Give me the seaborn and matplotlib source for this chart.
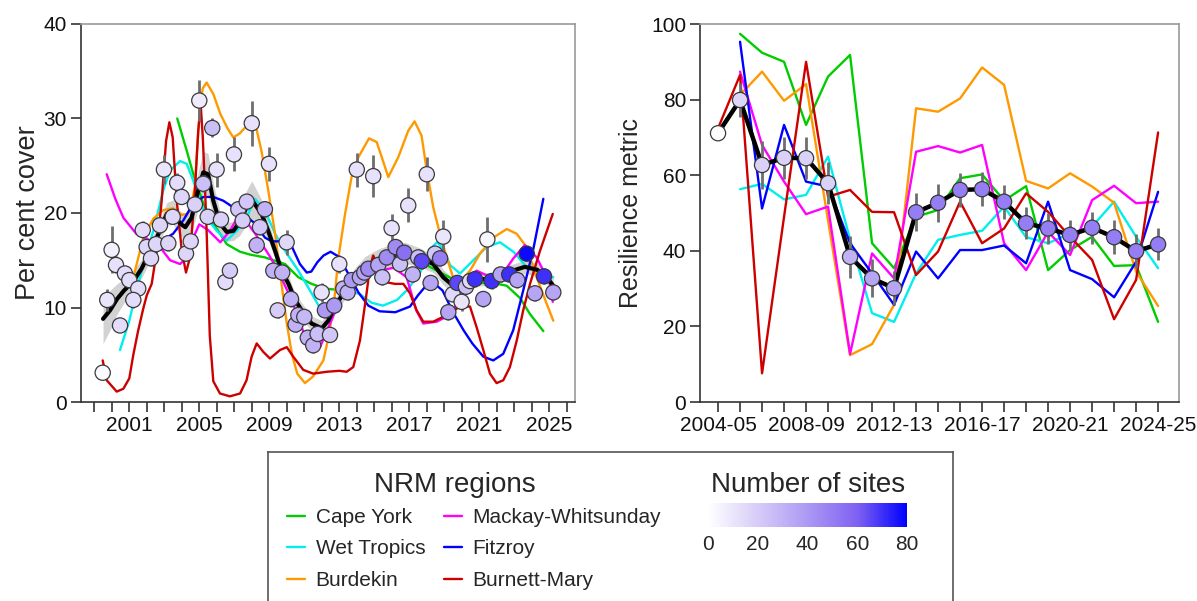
import numpy as np
import pandas as pd
import matplotlib
matplotlib.use("Agg")
import matplotlib.pyplot as plt
from matplotlib.colors import LinearSegmentedColormap, Normalize
from matplotlib.cm import ScalarMappable
from matplotlib.lines import Line2D
import seaborn as sns

# ------------------------------------------------------------------ data
regions = ["Cape York", "Wet Tropics", "Burdekin",
           "Mackay-Whitsunday", "Fitzroy", "Burnett-Mary"]
region_colors = ["#00CD00", "#00EEEE", "#FF9900", "#FF00FF", "#0000FF", "#CD0000"]

# Left panel: smoothed regional trends (per cent cover)
cape_york_x = [2003.74, 2004.28, 2004.66, 2005.23, 2005.8, 2006.57, 2007.33, 2007.9, 2008.75, 2009.9,
               2010.66, 2011.42, 2012.18, 2012.75, 2013.4, 2013.9, 2014.6, 2015.33, 2016.0, 2016.85,
               2017.6, 2018.57, 2019.5, 2020.28, 2021.04, 2021.8, 2022.57, 2023.33, 2023.9, 2024.66]
cape_york_y = [30.0, 26.6, 24.1, 21.0, 18.9, 16.7, 15.9, 15.6, 15.3, 14.6,
               13.2, 12.5, 12.0, 11.9, 12.4, 13.2, 14.4, 15.4, 15.7, 15.4,
               14.9, 13.9, 13.0, 12.5, 12.6, 12.6, 12.3, 11.0, 9.3, 7.5]

wet_tropics_x = [2000.47, 2001.0, 2001.23, 2001.8, 2002.37, 2002.94, 2003.33, 2003.9, 2004.28, 2004.66,
                 2005.04, 2005.42, 2006.0, 2006.57, 2007.14, 2007.7, 2008.18, 2008.75, 2009.33, 2009.9,
                 2010.66, 2011.42, 2012.0, 2012.7, 2013.4, 2014.1, 2014.85, 2015.5, 2016.3, 2016.85,
                 2017.6, 2018.18, 2018.6, 2018.94, 2019.33, 2019.9, 2020.66, 2021.42, 2022.18, 2022.95,
                 2023.7, 2024.47, 2025.23]
wet_tropics_y = [5.5, 8.6, 10.4, 14.6, 18.1, 22.4, 24.5, 25.5, 25.2, 23.4,
                 21.3, 19.5, 18.1, 17.1, 18.1, 19.5, 21.5, 20.3, 17.8, 16.0,
                 13.9, 11.5, 9.6, 10.4, 11.6, 11.5, 10.5, 10.2, 10.8, 11.8,
                 13.6, 16.2, 16.9, 16.2, 14.5, 13.6, 15.0, 16.4, 16.9, 15.9,
                 14.3, 13.7, 13.2]

burdekin_x = [2001.0, 2001.33, 2001.8, 2002.37, 2002.94, 2003.5, 2004.0, 2004.3, 2004.5, 2004.75,
              2004.9, 2005.05, 2005.2, 2005.42, 2005.8, 2006.2, 2006.6, 2006.94, 2007.3, 2007.9,
              2008.28, 2008.56, 2008.94, 2009.33, 2009.7, 2010.0, 2010.3, 2010.6, 2011.04, 2011.5,
              2012.09, 2012.4, 2012.7, 2012.95, 2013.33, 2013.7, 2014.09, 2014.7, 2015.14, 2015.5,
              2015.8, 2016.37, 2016.94, 2017.3, 2017.7, 2018.0, 2018.37, 2018.75, 2019.14, 2019.5,
              2019.9, 2020.47, 2021.04, 2021.8, 2022.57, 2023.14, 2023.7, 2024.28, 2024.85, 2025.23]
burdekin_y = [12.3, 13.9, 17.4, 19.4, 20.3, 20.5, 19.8, 19.9, 20.5, 22.8,
              27.5, 31.5, 33.2, 33.8, 32.6, 30.5, 29.0, 28.0, 28.4, 29.6,
              28.8, 26.5, 22.4, 17.8, 12.5, 8.3, 5.0, 3.0, 2.0, 2.7,
              4.4, 7.0, 10.5, 15.3, 19.9, 23.8, 25.9, 27.9, 27.5, 25.5,
              23.8, 25.9, 28.7, 29.7, 28.2, 24.5, 20.6, 17.8, 15.3, 13.2,
              12.7, 13.9, 15.7, 17.4, 18.3, 17.8, 16.4, 13.2, 10.4, 8.6]

mackay_x = [1999.71, 2000.2, 2000.66, 2001.4, 2002.0, 2002.75, 2003.33, 2003.9, 2004.3, 2004.66,
            2005.0, 2005.5, 2006.2, 2006.75, 2007.14, 2007.6, 2008.2, 2009.0, 2009.5, 2010.1,
            2010.66, 2011.04, 2011.4, 2011.9, 2012.47, 2013.04, 2013.6, 2014.36, 2015.33, 2016.1,
            2016.85, 2017.4, 2017.8, 2018.57, 2019.5, 2020.1, 2020.85, 2021.42, 2022.2, 2022.95,
            2023.6, 2024.28, 2025.04, 2025.2]
mackay_y = [24.1, 21.5, 19.5, 17.8, 17.3, 16.4, 15.0, 14.6, 15.3, 17.4,
            18.8, 18.2, 16.9, 18.1, 19.4, 19.3, 17.8, 15.5, 13.9, 11.5,
            9.0, 6.9, 6.0, 5.8, 8.3, 10.8, 12.5, 13.7, 13.9, 14.2,
            13.2, 9.7, 8.3, 8.5, 9.4, 12.9, 13.9, 13.4, 13.2, 15.2,
            16.6, 15.3, 12.5, 10.6]

fitzroy_x = [2003.14, 2003.5, 2004.08, 2004.66, 2005.23, 2005.8, 2006.37, 2006.94, 2007.51, 2008.18,
             2008.75, 2009.14, 2009.6, 2010.2, 2010.75, 2011.14, 2011.4, 2011.75, 2012.1, 2012.5,
             2012.95, 2013.51, 2014.09, 2014.66, 2015.3, 2016.2, 2017.04, 2017.5, 2018.0, 2018.45,
             2018.9, 2019.5, 2020.1, 2020.6, 2021.23, 2021.8, 2022.37, 2022.94, 2023.51, 2024.09,
             2024.66]
fitzroy_y = [17.4, 17.8, 19.2, 21.0, 21.7, 21.7, 21.3, 20.6, 19.9, 18.9,
             17.4, 17.0, 17.0, 16.8, 14.6, 13.7, 13.8, 14.8, 15.5, 15.9,
             15.4, 13.6, 11.6, 10.2, 9.6, 9.5, 10.1, 11.3, 12.4, 12.5,
             11.8, 9.5, 7.6, 6.2, 4.8, 4.4, 5.1, 7.6, 11.8, 16.2,
             21.5]

burnett_x = [1999.48, 1999.71, 2000.28, 2000.66, 2001.0, 2001.23, 2001.5, 2001.8, 2002.0, 2002.28,
             2002.57, 2002.85, 2003.1, 2003.29, 2003.48, 2003.71, 2004.0, 2004.24, 2004.47, 2004.75,
             2004.94, 2005.08, 2005.2, 2005.33, 2005.42, 2005.6, 2005.8, 2006.18, 2006.75, 2007.33,
             2007.7, 2007.99, 2008.28, 2008.66, 2009.04, 2009.61, 2010.0, 2010.37, 2010.94, 2011.51,
             2012.28, 2013.0, 2013.42, 2013.8, 2014.18, 2014.56, 2014.75, 2014.94, 2015.3, 2015.61,
             2016.18, 2016.66, 2017.04, 2017.42, 2017.8, 2018.37, 2019.14, 2019.9, 2020.47, 2020.85,
             2021.23, 2021.61, 2021.99, 2022.37, 2022.75, 2023.14, 2023.51, 2023.9, 2024.47, 2025.2]
burnett_y = [4.4, 2.3, 1.1, 1.4, 2.5, 5.0, 7.5, 9.9, 11.3, 12.5,
             16.0, 21.3, 27.6, 29.6, 28.0, 21.3, 16.0, 13.7, 15.3, 22.4,
             28.7, 31.5, 28.0, 22.4, 18.0, 7.0, 2.2, 0.9, 0.6, 0.9,
             2.3, 4.8, 6.2, 5.3, 4.6, 5.5, 5.8, 4.8, 3.4, 3.0,
             3.2, 3.3, 3.2, 3.7, 6.5, 11.5, 14.3, 15.5, 14.0, 12.7,
             12.5, 12.5, 11.5, 9.7, 8.5, 8.5, 9.2, 10.1, 10.1, 7.9,
             5.5, 3.0, 2.0, 2.3, 3.7, 6.5, 9.7, 12.5, 16.0, 19.9]

# Left panel: overall smoothed mean and its confidence half-width
mean_year = [1999.5, 1999.9, 2000.3, 2000.7, 2001.2, 2001.7, 2002.2, 2002.75, 2003.14, 2003.5,
             2003.9, 2004.2, 2004.56, 2004.94, 2005.23, 2005.5, 2005.8, 2006.18, 2006.57, 2006.94,
             2007.3, 2007.7, 2008.0, 2008.56, 2008.94, 2009.33, 2009.7, 2010.1, 2010.47, 2010.85,
             2011.42, 2012.0, 2012.37, 2012.75, 2013.33, 2013.9, 2014.47, 2015.23, 2016.0, 2016.75,
             2017.61, 2018.37, 2018.94, 2019.51, 2020.09, 2020.85, 2021.8, 2022.75, 2023.6, 2024.3,
             2024.85, 2025.23]
mean_cover = [8.8, 9.7, 10.9, 11.8, 12.7, 14.1, 16.0, 18.1, 19.9, 20.1,
              18.9, 18.5, 19.5, 22.4, 24.3, 24.1, 21.3, 18.9, 18.0, 18.1,
              19.0, 20.6, 21.4, 19.9, 18.1, 16.0, 13.9, 12.5, 10.8, 9.7,
              8.3, 7.8, 8.6, 10.1, 11.8, 13.2, 14.3, 15.0, 15.5, 15.8,
              15.3, 14.6, 13.2, 12.3, 12.4, 13.0, 13.0, 13.8, 14.3, 14.0,
              13.2, 12.3]
mean_ci = [2.6, 2.1, 1.6, 1.3, 1.1, 1.0, 1.0, 1.1, 1.2, 1.3,
           1.3, 1.3, 1.5, 2.0, 2.2, 2.2, 1.8, 1.3, 1.0, 1.0,
           1.4, 1.8, 2.0, 1.5, 1.0, 0.8, 0.8, 0.8, 0.8, 0.8,
           0.8, 0.8, 0.8, 0.8, 0.9, 1.0, 1.1, 1.2, 1.2, 1.1,
           1.0, 0.9, 0.8, 0.8, 0.7, 0.7, 0.7, 0.7, 0.7, 0.7,
           0.7, 0.8]

# Left panel: annual site-survey means (year, cover, number of sites, error)
pt_year = [1999.48, 1999.74, 1999.99, 2000.24, 2000.75, 2001.0, 2000.47, 2001.51, 2001.23, 2001.77,
           2001.99, 2002.24, 2002.53, 2002.75, 2002.98, 2003.23, 2003.48, 2003.74, 2003.99, 2004.24,
           2004.51, 2004.75, 2005.0, 2005.23, 2005.48, 2005.74, 2005.99, 2006.24, 2006.49, 2006.75,
           2006.98, 2007.23, 2007.48, 2007.71, 2008.0, 2008.75, 2008.47, 2008.28, 2008.98, 2009.23,
           2009.74, 2009.99, 2009.48, 2010.24, 2010.5, 2010.66, 2011.0, 2011.2, 2011.51, 2011.76,
           2011.99, 2012.47, 2012.18, 2012.71, 2013.0, 2013.23, 2013.48, 2013.71, 2014.0, 2014.18,
           2014.43, 2014.66, 2014.94, 2015.23, 2015.46, 2015.71, 2015.99, 2016.22, 2016.47, 2016.71,
           2016.94, 2017.2, 2018.0, 2017.51, 2017.71, 2018.22, 2018.47, 2018.76, 2018.94, 2019.23,
           2019.48, 2019.74, 2019.99, 2020.24, 2020.47, 2020.75, 2021.23, 2021.46, 2021.71, 2022.22,
           2022.71, 2023.17, 2023.71, 2024.18, 2024.7, 2025.23]
pt_cover = [3.1, 10.8, 16.1, 14.5, 13.6, 12.9, 8.1, 12.0, 10.8, 18.2,
            16.4, 15.2, 16.7, 18.7, 24.6, 16.8, 19.6, 23.2, 21.7, 15.7,
            17.0, 20.9, 31.9, 23.1, 19.6, 29.0, 24.6, 19.3, 12.7, 13.9,
            26.2, 20.4, 19.2, 21.2, 29.5, 20.4, 18.5, 16.6, 25.2, 13.9,
            13.7, 16.9, 9.7, 10.9, 8.2, 9.2, 9.0, 6.8, 6.0, 7.2,
            11.6, 7.1, 9.7, 10.2, 14.6, 12.0, 11.6, 12.9, 24.6, 13.2,
            13.7, 14.1, 23.9, 14.5, 13.2, 15.3, 18.4, 16.4, 14.6, 15.8,
            20.8, 13.5, 24.1, 15.3, 14.9, 12.6, 15.7, 15.2, 17.5, 9.5,
            11.4, 12.6, 10.6, 12.2, 12.8, 13.0, 10.9, 17.2, 12.8, 13.5,
            13.5, 12.9, 15.7, 11.5, 13.3, 11.6]
pt_sites = [2, 10, 6, 12, 14, 14, 14, 14, 14, 14,
            16, 16, 16, 16, 10, 16, 16, 14, 16, 16,
            16, 18, 8, 25, 18, 25, 12, 18, 14, 20,
            12, 22, 20, 22, 12, 30, 22, 30, 12, 30,
            30, 15, 20, 30, 30, 30, 28, 30, 30, 25,
            12, 22, 40, 40, 12, 30, 30, 40, 12, 35,
            35, 45, 12, 35, 25, 45, 12, 45, 25, 55,
            12, 30, 12, 25, 65, 35, 22, 50, 10, 35,
            15, 65, 10, 25, 15, 70, 35, 4, 70, 35,
            70, 35, 78, 35, 70, 35]
pt_err = [0.0, 1.2, 2.5, 0.9, 0.8, 0.8, 0.6, 0.8, 0.8, 1.0,
          0.8, 0.8, 0.8, 0.8, 1.5, 0.8, 0.8, 1.0, 0.8, 0.8,
          0.8, 0.8, 2.2, 0.9, 0.8, 1.0, 1.8, 0.8, 0.8, 0.8,
          1.8, 0.8, 0.8, 0.8, 2.4, 0.8, 0.8, 0.8, 1.8, 0.8,
          0.8, 1.3, 0.8, 0.8, 0.8, 0.8, 0.8, 0.8, 0.8, 0.8,
          1.0, 0.8, 0.8, 0.8, 1.0, 0.8, 0.8, 0.8, 1.8, 0.8,
          0.8, 0.8, 2.2, 0.8, 0.8, 0.8, 1.5, 0.8, 0.8, 0.8,
          1.8, 0.8, 1.8, 0.8, 0.8, 0.8, 0.8, 0.8, 1.8, 0.8,
          0.8, 0.8, 1.0, 0.8, 0.8, 0.8, 0.8, 2.4, 0.8, 0.8,
          0.8, 0.8, 0.8, 0.8, 0.8, 0.8]

# Right panel: resilience metric by financial year
fin_years = ["2004-05", "2005-06", "2006-07", "2007-08", "2008-09", "2009-10", "2010-11",
             "2011-12", "2012-13", "2013-14", "2014-15", "2015-16", "2016-17", "2017-18",
             "2018-19", "2019-20", "2020-21", "2021-22", "2022-23", "2023-24", "2024-25"]
nan = np.nan
res_cape_york = [nan, 97.4, 92.4, 90.0, 73.3, 86.1, 91.8, 42.0, 35.4, 49.0, 50.8,
                 59.2, 60.2, 53.3, 57.1, 34.9, 40.2, 43.7, 36.0, 36.2, 21.2]
res_wet_tropics = [nan, 56.3, 57.7, 53.6, 54.8, 64.9, 43.0, 23.5, 21.2, 34.0, 42.9,
                   44.2, 45.3, 51.7, 43.6, 42.0, 44.6, 46.4, 53.0, 43.7, 35.4]
res_burdekin = [nan, 81.2, 87.4, 79.7, 84.1, 48.0, 12.4, 15.3, 25.7, 77.7, 76.8,
                80.3, 88.5, 83.9, 58.5, 56.5, 60.5, 57.0, 52.7, 34.5, 25.4]
res_mackay = [nan, 87.4, 68.0, 58.3, 49.7, 51.7, 12.7, 39.3, 32.7, 66.2, 67.7,
              66.0, 68.0, 42.0, 34.9, 45.0, 38.9, 53.4, 57.2, 52.6, 53.0]
res_fitzroy = [nan, 95.3, 51.2, 73.3, 58.3, 57.0, 42.0, 34.0, 25.7, 39.8, 32.7,
               40.2, 40.2, 41.4, 36.7, 53.0, 34.9, 32.5, 27.7, 37.1, 55.6]
res_burnett = [72.4, 86.5, 7.6, 49.0, 90.0, 54.3, 56.1, 50.3, 50.2, 33.6, 39.8,
               53.0, 42.0, 45.9, 55.2, 50.3, 43.7, 37.6, 21.9, 32.3, 71.3]
res_mean = [71.1, 79.9, 62.7, 64.6, 64.5, 57.9, 38.4, 32.7, 30.1, 50.2, 52.7,
            56.1, 56.3, 53.0, 47.3, 45.9, 44.2, 46.1, 43.6, 39.9, 41.7]
res_err = [0.0, 4.4, 6.4, 5.5, 5.5, 5.5, 5.5, 5.0, 4.5, 5.0, 5.0,
           4.5, 4.5, 4.5, 4.2, 4.2, 4.0, 4.2, 4.5, 4.5, 4.2]
res_sites = [1, 16, 18, 18, 18, 18, 30, 35, 35, 50, 50,
             50, 50, 50, 50, 50, 50, 50, 50, 50, 50]

# ------------------------------------------------------------------ style
sns.set_style("ticks")
plt.rcParams["font.family"] = ["Liberation Sans", "DejaVu Sans"]

site_cmap = LinearSegmentedColormap.from_list(
    "sites", ["#FFFFFF", "#D6CCF8", "#AC99F4", "#7F62F2", "#0000FF"])
site_norm = Normalize(0, 80)

W, H = 1197, 601
fig = plt.figure(figsize=(W / 100, H / 100), dpi=100)


def box(x0, y0, x1, y1):
    return [x0 / W, 1 - y1 / H, (x1 - x0) / W, (y1 - y0) / H]


axL = fig.add_axes(box(81, 24, 575, 402))
axR = fig.add_axes(box(700, 24, 1179, 402))

# ------------------------------------------------------------------ left panel
lo = np.array(mean_cover) - np.array(mean_ci)
hi = np.array(mean_cover) + np.array(mean_ci)
axL.fill_between(mean_year, lo, hi, color="#d2d2d2", lw=0, zorder=1)

left_curves = [(cape_york_x, cape_york_y), (wet_tropics_x, wet_tropics_y),
               (burdekin_x, burdekin_y), (mackay_x, mackay_y),
               (fitzroy_x, fitzroy_y), (burnett_x, burnett_y)]
for (xs, ys), col in zip(left_curves, region_colors):
    sns.lineplot(x=xs, y=ys, color=col, lw=1.7, ax=axL, zorder=2)

sns.lineplot(x=mean_year, y=mean_cover, color="black", lw=3.0, ax=axL, zorder=3)

pe = np.array(pt_err)
pc = np.array(pt_cover)
axL.vlines(pt_year, pc - pe, pc + pe, color="#6e6e6e", lw=2.0, zorder=4)
sns.scatterplot(x=pt_year, y=pt_cover, hue=pt_sites, palette=site_cmap,
                hue_norm=(0, 80), s=120, edgecolor="#3a3a3a", linewidth=0.9,
                legend=False, ax=axL, zorder=5)

axL.set_xlim(1998.24, 2026.47)
axL.set_ylim(0, 40)
yrs = list(range(1999, 2027))
axL.set_xticks(yrs)
axL.set_xticklabels([str(y) if (y - 2001) % 4 == 0 else "" for y in yrs])
axL.set_yticks([0, 10, 20, 30, 40])
axL.set_ylabel("Per cent cover", fontsize=19.5, labelpad=2)
axL.set_xlabel("")

# ------------------------------------------------------------------ right panel
idx = list(range(len(fin_years)))
right_series = [res_cape_york, res_wet_tropics, res_burdekin,
                res_mackay, res_fitzroy, res_burnett]
for ys, col in zip(right_series, region_colors):
    df = pd.DataFrame({"i": idx, "v": ys}).dropna()
    sns.lineplot(data=df, x="i", y="v", color=col, lw=1.7, ax=axR, zorder=2)

sns.lineplot(x=idx, y=res_mean, color="black", lw=3.2, ax=axR, zorder=3)
rm = np.array(res_mean)
re = np.array(res_err)
axR.vlines(idx, rm - re, rm + re, color="#6e6e6e", lw=2.0, zorder=4)
sns.scatterplot(x=idx, y=res_mean, hue=res_sites, palette=site_cmap,
                hue_norm=(0, 80), s=120, edgecolor="#3a3a3a", linewidth=0.9,
                legend=False, ax=axR, zorder=5)

axR.set_xlim(-0.82, 20.95)
axR.set_ylim(0, 100)
axR.set_xticks(idx)
axR.set_xticklabels([fy if i % 4 == 0 else "" for i, fy in enumerate(fin_years)])
axR.set_yticks([0, 20, 40, 60, 80, 100])
axR.set_ylabel("Resilience metric", fontsize=18, labelpad=6)
axR.set_xlabel("")

for ax in (axL, axR):
    ax.tick_params(direction="out", length=7, width=1.2, color="#333333",
                   labelsize=15, pad=3, labelcolor="#111111")
    ax.spines["left"].set_color("#333333")
    ax.spines["bottom"].set_color("#333333")
    ax.spines["top"].set_color("#999999")
    ax.spines["right"].set_color("#999999")
    for s in ax.spines.values():
        s.set_linewidth(1.2)

# ------------------------------------------------------------------ legend box
lax = fig.add_axes(box(268, 452, 953, 640))
lax.set_xticks([])
lax.set_yticks([])
lax.patch.set_alpha(0)
for s in lax.spines.values():
    s.set_color("#555555")
    s.set_linewidth(1.2)

fig.text(455 / W, 1 - 485 / H, "NRM regions", ha="center", va="center", fontsize=20)
fig.text(808 / W, 1 - 485 / H, "Number of sites", ha="center", va="center", fontsize=20)

handles = [Line2D([], [], color=c, lw=1.7) for c in region_colors]
fig.legend(handles, regions, ncol=2, loc="upper left",
           bbox_to_anchor=(287 / W, 1 - 508 / H), frameon=False, fontsize=15,
           handlelength=0.87, handletextpad=0.5, columnspacing=0.9,
           labelspacing=0.6, borderpad=0, borderaxespad=0)

cax = fig.add_axes(box(708, 503, 907, 527))
cb = fig.colorbar(ScalarMappable(norm=site_norm, cmap=site_cmap), cax=cax,
                  orientation="horizontal", ticks=[0, 20, 40, 60, 80])
cb.outline.set_visible(False)
cax.tick_params(direction="in", color="white", length=5, width=1,
                labelsize=15, pad=6, top=True)

fig.savefig("out.png", dpi=100)
